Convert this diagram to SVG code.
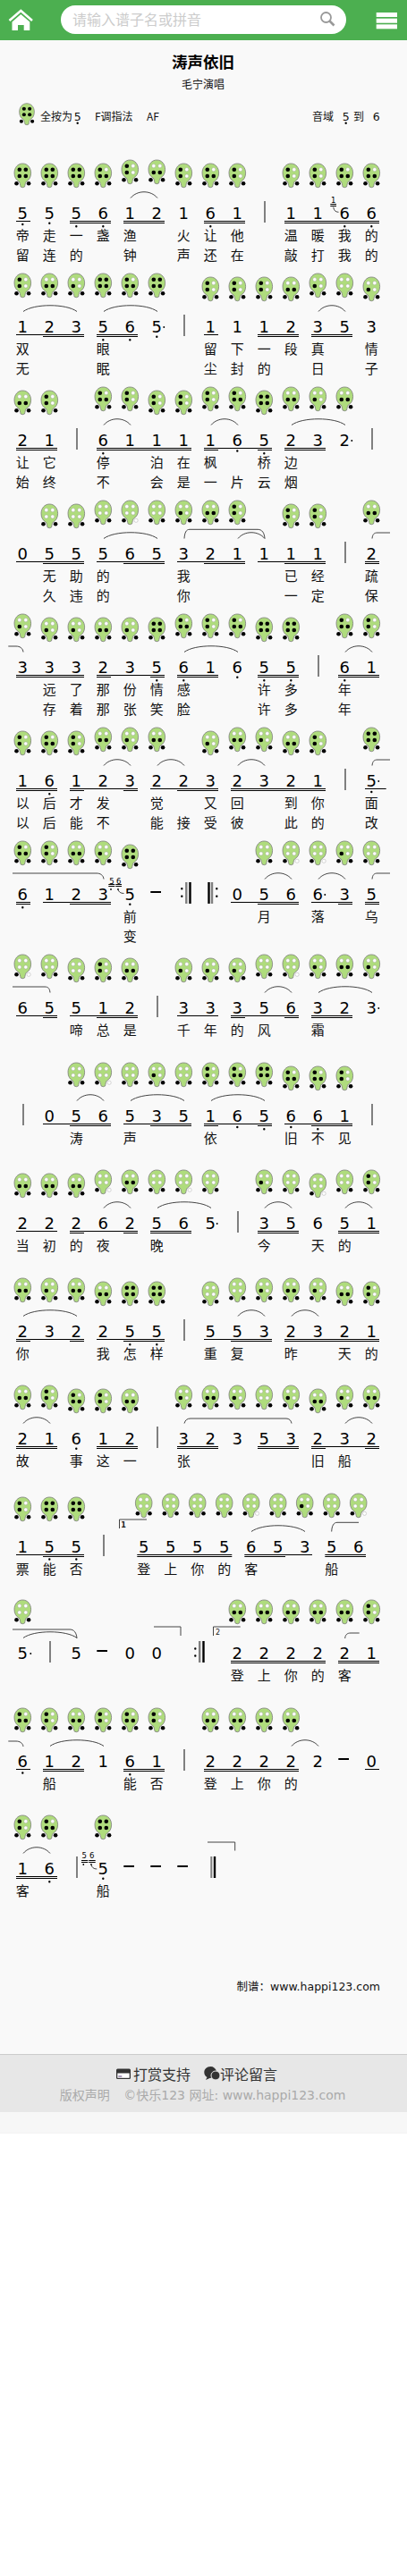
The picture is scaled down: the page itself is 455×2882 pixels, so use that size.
<svg xmlns="http://www.w3.org/2000/svg" width="455" height="2882" viewBox="0 0 455 2882">
<style>
.n{font:18px "DejaVu Sans",sans-serif;text-anchor:middle;fill:#000}
.l{font:15px "Noto Sans CJK SC",sans-serif;text-anchor:middle;fill:#111}
.g{font:8.5px "DejaVu Sans",sans-serif;text-anchor:middle;fill:#000}
.t{font:12px "Noto Sans CJK SC",sans-serif;fill:#111}
.u{fill:none;stroke:#000;stroke-width:1}
.d{fill:none;stroke:#000;stroke-width:2.4;stroke-linecap:round}
.a{fill:none;stroke:#000;stroke-width:1.9;stroke-linecap:round}
.s{fill:none;stroke:#444;stroke-width:1}
.b{fill:none;stroke:#808080;stroke-width:2}
.h{fill:none;stroke:#000;stroke-width:2}
.x{fill:none;stroke:#000;stroke-width:2.4}
.body{fill:#afdc7d;stroke:#7b7b7b;stroke-width:.8}
.k{fill:#000}
.w{fill:#fff;stroke:#999;stroke-width:.4}
</style>
<defs>
<path id="o" class="body" d="M0 0C5.5 0 9.3 4.7 9.3 10.5C9.3 15.5 7 18.5 4.2 20C3 21 2.8 24 2.2 26Q0 27.5-2.2 26C-2.8 24-3 21-4.2 20C-7 18.5-9.3 15.5-9.3 10.5C-9.3 4.7-5.5 0 0 0Z"/>
<circle id="K" r="2.3" class="k"/><circle id="W" r="2.1" class="w"/>
<g id="a"><use href="#o"/><use href="#K" x="-3.5" y="6.7"/><use href="#K" x="3.5" y="6.7"/><use href="#K" x="-3.5" y="14"/><use href="#K" x="3.5" y="14"/><use href="#K" x="-6.8" y="22.3"/><use href="#K" x="6.8" y="22.3"/></g>
<g id="b"><use href="#o"/><use href="#K" x="-3.5" y="6.7"/><use href="#W" x="3.5" y="6.7"/><use href="#K" x="-3.5" y="14"/><use href="#K" x="3.5" y="14"/><use href="#K" x="-6.8" y="22.3"/><use href="#K" x="6.8" y="22.3"/></g>
<g id="c"><use href="#o"/><use href="#K" x="-3.5" y="6.7"/><use href="#W" x="3.5" y="6.7"/><use href="#K" x="-3.5" y="14"/><use href="#W" x="3.5" y="14"/><use href="#K" x="-6.8" y="22.3"/><use href="#K" x="6.8" y="22.3"/></g>
<g id="e2"><use href="#o"/><use href="#W" x="-3.5" y="6.7"/><use href="#W" x="3.5" y="6.7"/><use href="#K" x="-3.5" y="14"/><use href="#K" x="3.5" y="14"/><use href="#K" x="-6.8" y="22.3"/><use href="#K" x="6.8" y="22.3"/></g>
<g id="e3"><use href="#o"/><use href="#W" x="-3.5" y="6.7"/><use href="#W" x="3.5" y="6.7"/><use href="#K" x="-3.5" y="14"/><use href="#W" x="3.5" y="14"/><use href="#K" x="-6.8" y="22.3"/><use href="#K" x="6.8" y="22.3"/></g>
<g id="f"><use href="#o"/><use href="#W" x="-3.5" y="6.7"/><use href="#W" x="3.5" y="6.7"/><use href="#W" x="-3.5" y="14"/><use href="#W" x="3.5" y="14"/><use href="#K" x="-6.8" y="22.3"/><use href="#K" x="6.8" y="22.3"/></g>
<g id="g"><use href="#o"/><use href="#W" x="-3.5" y="6.7"/><use href="#W" x="3.5" y="6.7"/><use href="#W" x="-3.5" y="14"/><use href="#W" x="3.5" y="14"/><use href="#K" x="-6.8" y="22.3"/><use href="#W" x="6.8" y="22.3"/></g>
</defs>

<rect width="455" height="2882" fill="#fff"/>
<rect y="45" width="455" height="2253" fill="#f9f9f9"/>

<g id="header">
<rect width="455" height="45" fill="#4caf50"/>
<path d="M10.5 23L23.3 12L36 23" fill="none" stroke="#fff" stroke-width="2.6"/>
<path d="M13.5 24.5L23.3 16L33.3 24.5V34H26.7V28H20V34H13.5Z" fill="#fff"/>
<rect x="68" y="6" width="319" height="32" rx="16" fill="#fff"/>
<text x="81" y="28" font-family="'Noto Sans CJK SC',sans-serif" font-size="16" fill="#ccc">请输入谱子名或拼音</text>
<circle cx="364.5" cy="19.5" r="5.5" fill="none" stroke="#999" stroke-width="1.8"/>
<path d="M368.5 23.5L373.5 28.5" stroke="#999" stroke-width="2.6"/>
<rect x="420.7" y="14" width="23.3" height="5" fill="#fff"/><rect x="420.7" y="20.7" width="23.3" height="5" fill="#fff"/><rect x="420.7" y="27.3" width="23.3" height="5" fill="#fff"/>
</g>

<g id="title">
<text x="227" y="76" text-anchor="middle" font-family="'Noto Sans CJK SC',sans-serif" font-size="17.5" font-weight="700" fill="#000">涛声依旧</text>
<text x="227" y="99" text-anchor="middle" class="t">毛宁演唱</text>
<use href="#a" transform="translate(30 115.7) scale(.9)"/>
<text x="45" y="135" class="t">全按为</text>
<text x="86.7" y="135" text-anchor="middle" font-family="'DejaVu Sans',sans-serif" font-size="12.5" fill="#111">5</text>
<text x="106" y="135" class="t">F调指法</text>
<text x="164" y="135" class="t">AF</text>
<text x="349" y="135" class="t">音域</text>
<text x="386.7" y="135" text-anchor="middle" font-family="'DejaVu Sans',sans-serif" font-size="12.5" fill="#111">5</text>
<text x="395" y="135" class="t">到</text>
<text x="420.7" y="135" text-anchor="middle" font-family="'DejaVu Sans',sans-serif" font-size="12.5" fill="#111">6</text>
<path class="d" d="M86.7 137.7h0M386.7 137.7h0"/>
</g>

<g id="row1" transform="translate(0 245)">
<use href="#a" x="25.3" y="-62"/><use href="#a" x="55.3" y="-62"/><use href="#a" x="85.3" y="-62"/><use href="#b" x="115.3" y="-62"/><use href="#c" x="145.3" y="-66"/><use href="#e2" x="175.3" y="-66"/><use href="#c" x="205.3" y="-62"/><use href="#b" x="235.3" y="-62"/><use href="#c" x="265.3" y="-62"/><use href="#c" x="325.3" y="-62"/><use href="#c" x="355.3" y="-62"/><use href="#b" x="385.3" y="-62"/><use href="#b" x="415.3" y="-62"/>
<text class="n" x="25.3">5</text><text class="n" x="55.3">5</text><text class="n" x="85.3">5</text><text class="n" x="115.3">6</text><text class="n" x="145.3">1</text><text class="n" x="175.3">2</text><text class="n" x="205.3">1</text><text class="n" x="235.3">6</text><text class="n" x="265.3">1</text><text class="n" x="325.3">1</text><text class="n" x="355.3">1</text><text class="n" x="385.3">6</text><text class="n" x="415.3">6</text>
<text class="g" x="372.7" y="-18">1</text>
<path class="u" d="M18 2.5H34M78 2.5H124M138 2.5H184M228 2.5H274M318 2.5H424M78 4.5H124M138 4.5H184M228 4.5H274M318 4.5H424M369.3-16.5H376M369.3-14.5H376"/>
<path class="d" d="M25.3 6h0M55.3 4.7h0M85.3 8.3h0M115.3 8.3h0M235.3 8.3h0M385.3 8.3h0M415.3 8.3h0"/>
<path class="b" d="M296-20V4"/>
<path class="s" d="M146-23.5c7.5-9 22.5-9 30 0M372.7-13.3Q373.5-7.7 378.5-7.7"/>
<text class="l" x="25.3" y="23.5">帝</text><text class="l" x="55.3" y="23.5">走</text><text class="l" x="85.3" y="23.5">一</text><text class="l" x="115.3" y="23.5">盏</text><text class="l" x="145.3" y="23.5">渔</text><text class="l" x="205.3" y="23.5">火</text><text class="l" x="235.3" y="23.5">让</text><text class="l" x="265.3" y="23.5">他</text><text class="l" x="325.3" y="23.5">温</text><text class="l" x="355.3" y="23.5">暖</text><text class="l" x="385.3" y="23.5">我</text><text class="l" x="415.3" y="23.5">的</text>
<text class="l" x="25.3" y="46">留</text><text class="l" x="55.3" y="46">连</text><text class="l" x="85.3" y="46">的</text><text class="l" x="145.3" y="46">钟</text><text class="l" x="205.3" y="46">声</text><text class="l" x="235.3" y="46">还</text><text class="l" x="265.3" y="46">在</text><text class="l" x="325.3" y="46">敲</text><text class="l" x="355.3" y="46">打</text><text class="l" x="385.3" y="46">我</text><text class="l" x="415.3" y="46">的</text>
</g>

<g id="row2" transform="translate(0 372)">
<use href="#c" x="25.3" y="-66"/><use href="#e2" x="55.3" y="-66"/><use href="#e3" x="85.3" y="-66"/><use href="#a" x="115.3" y="-66"/><use href="#b" x="145.3" y="-66"/><use href="#a" x="175.3" y="-66"/><use href="#c" x="235.3" y="-62"/><use href="#c" x="265.3" y="-62"/><use href="#c" x="295.3" y="-62"/><use href="#e2" x="325.3" y="-62"/><use href="#e3" x="355.3" y="-66"/><use href="#f" x="385.3" y="-66"/><use href="#e3" x="415.3" y="-62"/>
<text class="n" x="25.3">1</text><text class="n" x="55.3">2</text><text class="n" x="85.3">3</text><text class="n" x="115.3">5</text><text class="n" x="145.3">6</text><text class="n" x="175.3">5</text><text class="n" x="235.3">1</text><text class="n" x="265.3">1</text><text class="n" x="295.3">1</text><text class="n" x="325.3">2</text><text class="n" x="355.3">3</text><text class="n" x="385.3">5</text><text class="n" x="415.3">3</text>
<path class="u" d="M18 2.5H94M108 2.5H154M228 2.5H244M288 2.5H334M348 2.5H394M48 4.5H94M108 4.5H154M288 4.5H334M348 4.5H394"/>
<path class="d" d="M115.3 8.3h0M145.3 8.3h0M175.3 4.7h0"/>
<path class="a" d="M183.3-6h0"/>
<path class="b" d="M206-20V4"/>
<path class="s" d="M26-23.5c12-9 48-9 60 0M116-23.5c12-9 48-9 60 0M356-23.5c7.5-9 22.5-9 30 0"/>
<text class="l" x="25.3" y="23.5">双</text><text class="l" x="115.3" y="23.5">眼</text><text class="l" x="235.3" y="23.5">留</text><text class="l" x="265.3" y="23.5">下</text><text class="l" x="295.3" y="23.5">一</text><text class="l" x="325.3" y="23.5">段</text><text class="l" x="355.3" y="23.5">真</text><text class="l" x="415.3" y="23.5">情</text>
<text class="l" x="25.3" y="46">无</text><text class="l" x="115.3" y="46">眠</text><text class="l" x="235.3" y="46">尘</text><text class="l" x="265.3" y="46">封</text><text class="l" x="295.3" y="46">的</text><text class="l" x="355.3" y="46">日</text><text class="l" x="415.3" y="46">子</text>
</g>

<g id="row3" transform="translate(0 499)">
<use href="#e2" x="25.3" y="-62"/><use href="#c" x="55.3" y="-62"/><use href="#b" x="115.3" y="-66"/><use href="#c" x="145.3" y="-66"/><use href="#c" x="175.3" y="-62"/><use href="#c" x="205.3" y="-62"/><use href="#c" x="235.3" y="-66"/><use href="#b" x="265.3" y="-66"/><use href="#a" x="295.3" y="-62"/><use href="#e2" x="325.3" y="-66"/><use href="#e3" x="355.3" y="-66"/><use href="#e2" x="385.3" y="-66"/>
<text class="n" x="25.3">2</text><text class="n" x="55.3">1</text><text class="n" x="115.3">6</text><text class="n" x="145.3">1</text><text class="n" x="175.3">1</text><text class="n" x="205.3">1</text><text class="n" x="235.3">1</text><text class="n" x="265.3">6</text><text class="n" x="295.3">5</text><text class="n" x="325.3">2</text><text class="n" x="355.3">3</text><text class="n" x="385.3">2</text>
<path class="u" d="M18 2.5H64M108 2.5H214M228 2.5H304M318 2.5H364M18 4.5H64M108 4.5H214M228 4.5H244M288 4.5H304M318 4.5H364"/>
<path class="d" d="M115.3 8.3h0M265.3 5.5h0M295.3 8.3h0"/>
<path class="a" d="M393.3-6h0"/>
<path class="b" d="M86-20V4M416-20V4"/>
<path class="s" d="M116-23.5c7.5-9 22.5-9 30 0M236-23.5c7.5-9 22.5-9 30 0M326-23.5c12-9 48-9 60 0"/>
<text class="l" x="25.3" y="23.5">让</text><text class="l" x="55.3" y="23.5">它</text><text class="l" x="115.3" y="23.5">停</text><text class="l" x="175.3" y="23.5">泊</text><text class="l" x="205.3" y="23.5">在</text><text class="l" x="235.3" y="23.5">枫</text><text class="l" x="295.3" y="23.5">桥</text><text class="l" x="325.3" y="23.5">边</text>
<text class="l" x="25.3" y="46">始</text><text class="l" x="55.3" y="46">终</text><text class="l" x="115.3" y="46">不</text><text class="l" x="175.3" y="46">会</text><text class="l" x="205.3" y="46">是</text><text class="l" x="235.3" y="46">一</text><text class="l" x="265.3" y="46">片</text><text class="l" x="295.3" y="46">云</text><text class="l" x="325.3" y="46">烟</text>
</g>

<g id="row4" transform="translate(0 626)">
<use href="#f" x="55.3" y="-62"/><use href="#f" x="85.3" y="-62"/><use href="#f" x="115.3" y="-66"/><use href="#g" x="145.3" y="-66"/><use href="#f" x="175.3" y="-66"/><use href="#e3" x="205.3" y="-66"/><use href="#e2" x="235.3" y="-66"/><use href="#c" x="265.3" y="-66"/><use href="#c" x="325.3" y="-62"/><use href="#c" x="355.3" y="-62"/><use href="#e2" x="415.3" y="-66"/>
<text class="n" x="25.3">0</text><text class="n" x="55.3">5</text><text class="n" x="85.3">5</text><text class="n" x="115.3">5</text><text class="n" x="145.3">6</text><text class="n" x="175.3">5</text><text class="n" x="205.3">3</text><text class="n" x="235.3">2</text><text class="n" x="265.3">1</text><text class="n" x="295.3">1</text><text class="n" x="325.3">1</text><text class="n" x="355.3">1</text><text class="n" x="415.3">2</text>
<path class="u" d="M18 2.5H94M108 2.5H184M198 2.5H274M288 2.5H364M408 2.5H424M48 4.5H94M138 4.5H184M228 4.5H274M318 4.5H364M408 4.5H424"/>
<path class="b" d="M386-20V4"/>
<path class="s" d="M116-23.5c12-9 48-9 60 0M266-23.5c7.5-9 22.5-9 30 0M206-23.5C206.5-30 208-33.7 212-33.7H288C293-33.7 295.5-30 296-23.5M416-23.5C416.5-28 418-30 422-30H436"/>
<text class="l" x="55.3" y="23.5">无</text><text class="l" x="85.3" y="23.5">助</text><text class="l" x="115.3" y="23.5">的</text><text class="l" x="205.3" y="23.5">我</text><text class="l" x="325.3" y="23.5">已</text><text class="l" x="355.3" y="23.5">经</text><text class="l" x="415.3" y="23.5">疏</text>
<text class="l" x="55.3" y="46">久</text><text class="l" x="85.3" y="46">违</text><text class="l" x="115.3" y="46">的</text><text class="l" x="205.3" y="46">你</text><text class="l" x="325.3" y="46">一</text><text class="l" x="355.3" y="46">定</text><text class="l" x="415.3" y="46">保</text>
</g>

<g id="row5" transform="translate(0 753)">
<use href="#e3" x="25.3" y="-66"/><use href="#e3" x="55.3" y="-62"/><use href="#e3" x="85.3" y="-62"/><use href="#e2" x="115.3" y="-62"/><use href="#e3" x="145.3" y="-62"/><use href="#a" x="175.3" y="-62"/><use href="#b" x="205.3" y="-66"/><use href="#c" x="235.3" y="-66"/><use href="#b" x="265.3" y="-66"/><use href="#a" x="295.3" y="-62"/><use href="#a" x="325.3" y="-62"/><use href="#b" x="385.3" y="-66"/><use href="#c" x="415.3" y="-66"/>
<text class="n" x="25.3">3</text><text class="n" x="55.3">3</text><text class="n" x="85.3">3</text><text class="n" x="115.3">2</text><text class="n" x="145.3">3</text><text class="n" x="175.3">5</text><text class="n" x="205.3">6</text><text class="n" x="235.3">1</text><text class="n" x="265.3">6</text><text class="n" x="295.3">5</text><text class="n" x="325.3">5</text><text class="n" x="385.3">6</text><text class="n" x="415.3">1</text>
<path class="u" d="M18 2.5H94M108 2.5H184M198 2.5H244M288 2.5H334M378 2.5H424M18 4.5H94M108 4.5H124M168 4.5H184M198 4.5H244M288 4.5H334M378 4.5H424"/>
<path class="d" d="M175.3 8.3h0M205.3 8.3h0M265.3 4.7h0M295.3 8.3h0M325.3 8.3h0M385.3 8.3h0"/>
<path class="b" d="M356-20V4"/>
<path class="s" d="M9.3-30H18C22-30 25.5-28 26-23.5M206-23.5c12-9 48-9 60 0M386-23.5c7.5-9 22.5-9 30 0"/>
<text class="l" x="55.3" y="23.5">远</text><text class="l" x="85.3" y="23.5">了</text><text class="l" x="115.3" y="23.5">那</text><text class="l" x="145.3" y="23.5">份</text><text class="l" x="175.3" y="23.5">情</text><text class="l" x="205.3" y="23.5">感</text><text class="l" x="295.3" y="23.5">许</text><text class="l" x="325.3" y="23.5">多</text><text class="l" x="385.3" y="23.5">年</text>
<text class="l" x="55.3" y="46">存</text><text class="l" x="85.3" y="46">着</text><text class="l" x="115.3" y="46">那</text><text class="l" x="145.3" y="46">张</text><text class="l" x="175.3" y="46">笑</text><text class="l" x="205.3" y="46">脸</text><text class="l" x="295.3" y="46">许</text><text class="l" x="325.3" y="46">多</text><text class="l" x="385.3" y="46">年</text>
</g>

<g id="row6" transform="translate(0 880)">
<use href="#c" x="25.3" y="-62"/><use href="#b" x="55.3" y="-62"/><use href="#c" x="85.3" y="-62"/><use href="#e2" x="115.3" y="-66"/><use href="#e3" x="145.3" y="-66"/><use href="#e2" x="175.3" y="-66"/><use href="#e3" x="235.3" y="-62"/><use href="#e2" x="265.3" y="-66"/><use href="#e3" x="295.3" y="-66"/><use href="#e2" x="325.3" y="-62"/><use href="#c" x="355.3" y="-62"/><use href="#a" x="415.3" y="-66"/>
<text class="n" x="25.3">1</text><text class="n" x="55.3">6</text><text class="n" x="85.3">1</text><text class="n" x="115.3">2</text><text class="n" x="145.3">3</text><text class="n" x="175.3">2</text><text class="n" x="205.3">2</text><text class="n" x="235.3">3</text><text class="n" x="265.3">2</text><text class="n" x="295.3">3</text><text class="n" x="325.3">2</text><text class="n" x="355.3">1</text><text class="n" x="415.3">5</text>
<path class="u" d="M18 2.5H64M78 2.5H154M168 2.5H244M258 2.5H364M408 2.5H431.7M18 4.5H64M78 4.5H94M138 4.5H154M198 4.5H244M258 4.5H364"/>
<path class="d" d="M55.3 8.3h0M415.3 6h0"/>
<path class="a" d="M423.3-6h0"/>
<path class="b" d="M386-20V4"/>
<path class="s" d="M116-23.5c7.5-9 22.5-9 30 0M176-23.5c7.5-9 22.5-9 30 0M266-23.5c7.5-9 22.5-9 30 0M416-23.5C416.5-28 418-30 422-30H436"/>
<text class="l" x="25.3" y="23.5">以</text><text class="l" x="55.3" y="23.5">后</text><text class="l" x="85.3" y="23.5">才</text><text class="l" x="115.3" y="23.5">发</text><text class="l" x="175.3" y="23.5">觉</text><text class="l" x="235.3" y="23.5">又</text><text class="l" x="265.3" y="23.5">回</text><text class="l" x="325.3" y="23.5">到</text><text class="l" x="355.3" y="23.5">你</text><text class="l" x="415.3" y="23.5">面</text>
<text class="l" x="25.3" y="46">以</text><text class="l" x="55.3" y="46">后</text><text class="l" x="85.3" y="46">能</text><text class="l" x="115.3" y="46">不</text><text class="l" x="175.3" y="46">能</text><text class="l" x="205.3" y="46">接</text><text class="l" x="235.3" y="46">受</text><text class="l" x="265.3" y="46">彼</text><text class="l" x="325.3" y="46">此</text><text class="l" x="355.3" y="46">的</text><text class="l" x="415.3" y="46">改</text>
</g>

<g id="row7" transform="translate(0 1007)">
<use href="#b" x="25.3" y="-66"/><use href="#c" x="55.3" y="-66"/><use href="#e2" x="85.3" y="-66"/><use href="#e3" x="115.3" y="-66"/><use href="#a" x="145.3" y="-62"/><use href="#f" x="295.3" y="-66"/><use href="#g" x="325.3" y="-66"/><use href="#g" x="355.3" y="-66"/><use href="#e3" x="385.3" y="-66"/><use href="#f" x="415.3" y="-66"/>
<text class="n" x="25.3">6</text><text class="n" x="55.3">1</text><text class="n" x="85.3">2</text><text class="n" x="115.3">3</text><text class="n" x="145.3">5</text><text class="n" x="265.3">0</text><text class="n" x="295.3">5</text><text class="n" x="325.3">6</text><text class="n" x="355.3">6</text><text class="n" x="385.3">3</text><text class="n" x="415.3">5</text>
<text class="g" x="125" y="-18.5">5</text><text class="g" x="132.7" y="-18.5">6</text>
<path class="u" d="M18 2.5H34M48 2.5H124M258 2.5H334M348 2.5H394M408 2.5H424M18 4.5H34M78 4.5H124M288 4.5H334M378 4.5H394M408 4.5H424M121.3-17.5H128.3M129.3-17.5H136M121.3-15.5H128.3M129.3-15.5H136"/>
<path class="d" d="M25.3 8.3h0M145.3 4.7h0"/>
<path class="a" d="M363.3-6h0"/>
<path class="h" d="M168.3-9H180"/>
<path class="d" style="stroke-width:1.8" d="M124-12h0M132-12h0"/>
<path class="d" d="M203.3-12.7h0M203.3-4.3h0M242.3-12.7h0M242.3-4.3h0"/>
<path class="b" style="stroke-width:2.4" d="M208.3-20V4M237-20V4"/>
<path class="x" d="M212.5-20V4M233.5-20V4"/>
<path class="s" d="M14-30H108C112-30 115.5-28 116-23.5M296-23.5c7.5-9 22.5-9 30 0M356-23.5c7.5-9 22.5-9 30 0M416-23.5C416.5-28 418-30 422-30H436M132-12Q133-7.5 138.5-7.5"/>
<text class="l" x="145.3" y="23.5">前</text><text class="l" x="295.3" y="23.5">月</text><text class="l" x="355.3" y="23.5">落</text><text class="l" x="415.3" y="23.5">乌</text>
<text class="l" x="145.3" y="46">变</text>
</g>

<g id="row8" transform="translate(0 1134)">
<use href="#g" x="25.3" y="-66"/><use href="#f" x="55.3" y="-66"/><use href="#f" x="85.3" y="-62"/><use href="#c" x="115.3" y="-62"/><use href="#e2" x="145.3" y="-62"/><use href="#e3" x="205.3" y="-62"/><use href="#e3" x="235.3" y="-62"/><use href="#e3" x="265.3" y="-62"/><use href="#f" x="295.3" y="-66"/><use href="#g" x="325.3" y="-66"/><use href="#e3" x="355.3" y="-66"/><use href="#e2" x="385.3" y="-66"/><use href="#e3" x="415.3" y="-66"/>
<text class="n" x="25.3">6</text><text class="n" x="55.3">5</text><text class="n" x="85.3">5</text><text class="n" x="115.3">1</text><text class="n" x="145.3">2</text><text class="n" x="205.3">3</text><text class="n" x="235.3">3</text><text class="n" x="265.3">3</text><text class="n" x="295.3">5</text><text class="n" x="325.3">6</text><text class="n" x="355.3">3</text><text class="n" x="385.3">2</text><text class="n" x="415.3">3</text>
<path class="u" d="M18 2.5H64M78 2.5H154M198 2.5H244M258 2.5H334M348 2.5H394M48 4.5H64M108 4.5H154M258 4.5H274M318 4.5H334M348 4.5H394"/>
<path class="a" d="M423.3-6h0"/>
<path class="b" d="M176-20V4"/>
<path class="s" d="M14-30H50C54-30 55.5-28 56-23.5M296-23.5c7.5-9 22.5-9 30 0M356-23.5c12-9 48-9 60 0"/>
<text class="l" x="85.3" y="23.5">啼</text><text class="l" x="115.3" y="23.5">总</text><text class="l" x="145.3" y="23.5">是</text><text class="l" x="205.3" y="23.5">千</text><text class="l" x="235.3" y="23.5">年</text><text class="l" x="265.3" y="23.5">的</text><text class="l" x="295.3" y="23.5">风</text><text class="l" x="355.3" y="23.5">霜</text>
</g>

<g id="row9" transform="translate(0 1255)">
<use href="#f" x="85.3" y="-66"/><use href="#g" x="115.3" y="-66"/><use href="#f" x="145.3" y="-66"/><use href="#e3" x="175.3" y="-66"/><use href="#f" x="205.3" y="-66"/><use href="#c" x="235.3" y="-66"/><use href="#b" x="265.3" y="-66"/><use href="#a" x="295.3" y="-66"/><use href="#b" x="325.3" y="-62"/><use href="#b" x="355.3" y="-62"/><use href="#c" x="385.3" y="-62"/>
<text class="n" x="55.3">0</text><text class="n" x="85.3">5</text><text class="n" x="115.3">6</text><text class="n" x="145.3">5</text><text class="n" x="175.3">3</text><text class="n" x="205.3">5</text><text class="n" x="235.3">1</text><text class="n" x="265.3">6</text><text class="n" x="295.3">5</text><text class="n" x="325.3">6</text><text class="n" x="355.3">6</text><text class="n" x="385.3">1</text>
<path class="u" d="M48 2.5H124M138 2.5H214M228 2.5H304M318 2.5H394M78 4.5H124M168 4.5H214M228 4.5H244M288 4.5H304M348 4.5H394"/>
<path class="d" d="M265.3 6h0M295.3 8.3h0M325.3 6h0M355.3 8.3h0"/>
<path class="b" d="M26-20V4M416-20V4"/>
<path class="s" d="M86-23.5c7.5-9 22.5-9 30 0M146-23.5c12-9 48-9 60 0M236-23.5c12-9 48-9 60 0"/>
<text class="l" x="85.3" y="23.5">涛</text><text class="l" x="145.3" y="23.5">声</text><text class="l" x="235.3" y="23.5">依</text><text class="l" x="325.3" y="23.5">旧</text><text class="l" x="355.3" y="23.5">不</text><text class="l" x="385.3" y="23.5">见</text>
</g>

<g id="row10" transform="translate(0 1375)">
<use href="#e2" x="25.3" y="-62"/><use href="#e2" x="55.3" y="-62"/><use href="#e2" x="85.3" y="-62"/><use href="#g" x="115.3" y="-66"/><use href="#e2" x="145.3" y="-66"/><use href="#f" x="175.3" y="-66"/><use href="#g" x="205.3" y="-66"/><use href="#f" x="235.3" y="-66"/><use href="#e3" x="295.3" y="-66"/><use href="#f" x="325.3" y="-66"/><use href="#g" x="355.3" y="-62"/><use href="#f" x="385.3" y="-66"/><use href="#c" x="415.3" y="-66"/>
<text class="n" x="25.3">2</text><text class="n" x="55.3">2</text><text class="n" x="85.3">2</text><text class="n" x="115.3">6</text><text class="n" x="145.3">2</text><text class="n" x="175.3">5</text><text class="n" x="205.3">6</text><text class="n" x="235.3">5</text><text class="n" x="295.3">3</text><text class="n" x="325.3">5</text><text class="n" x="355.3">6</text><text class="n" x="385.3">5</text><text class="n" x="415.3">1</text>
<path class="u" d="M18 2.5H64M78 2.5H154M168 2.5H214M288 2.5H334M378 2.5H424M78 4.5H94M138 4.5H154M168 4.5H214M288 4.5H334M378 4.5H424"/>
<path class="a" d="M242.7-6h0"/>
<path class="b" d="M266-20V4"/>
<path class="s" d="M116-23.5c7.5-9 22.5-9 30 0M176-23.5c12-9 48-9 60 0M296-23.5c7.5-9 22.5-9 30 0M386-23.5c7.5-9 22.5-9 30 0"/>
<text class="l" x="25.3" y="23.5">当</text><text class="l" x="55.3" y="23.5">初</text><text class="l" x="85.3" y="23.5">的</text><text class="l" x="115.3" y="23.5">夜</text><text class="l" x="175.3" y="23.5">晚</text><text class="l" x="295.3" y="23.5">今</text><text class="l" x="355.3" y="23.5">天</text><text class="l" x="385.3" y="23.5">的</text>
</g>

<g id="row11" transform="translate(0 1496)">
<use href="#e2" x="25.3" y="-66"/><use href="#e3" x="55.3" y="-66"/><use href="#e2" x="85.3" y="-66"/><use href="#e2" x="115.3" y="-62"/><use href="#a" x="145.3" y="-62"/><use href="#a" x="175.3" y="-62"/><use href="#f" x="235.3" y="-62"/><use href="#f" x="265.3" y="-66"/><use href="#e3" x="295.3" y="-66"/><use href="#e2" x="325.3" y="-66"/><use href="#e3" x="355.3" y="-66"/><use href="#e2" x="385.3" y="-62"/><use href="#c" x="415.3" y="-62"/>
<text class="n" x="25.3">2</text><text class="n" x="55.3">3</text><text class="n" x="85.3">2</text><text class="n" x="115.3">2</text><text class="n" x="145.3">5</text><text class="n" x="175.3">5</text><text class="n" x="235.3">5</text><text class="n" x="265.3">5</text><text class="n" x="295.3">3</text><text class="n" x="325.3">2</text><text class="n" x="355.3">3</text><text class="n" x="385.3">2</text><text class="n" x="415.3">1</text>
<path class="u" d="M18 2.5H94M108 2.5H184M228 2.5H304M318 2.5H424M18 4.5H34M78 4.5H94M138 4.5H184M258 4.5H304M318 4.5H424"/>
<path class="d" d="M145.3 8.3h0M175.3 8.3h0"/>
<path class="b" d="M206-20V4"/>
<path class="s" d="M26-23.5c12-9 48-9 60 0M266-23.5c7.5-9 22.5-9 30 0M326-23.5c7.5-9 22.5-9 30 0"/>
<text class="l" x="25.3" y="23.5">你</text><text class="l" x="115.3" y="23.5">我</text><text class="l" x="145.3" y="23.5">怎</text><text class="l" x="175.3" y="23.5">样</text><text class="l" x="235.3" y="23.5">重</text><text class="l" x="265.3" y="23.5">复</text><text class="l" x="325.3" y="23.5">昨</text><text class="l" x="385.3" y="23.5">天</text><text class="l" x="415.3" y="23.5">的</text>
</g>

<g id="row12" transform="translate(0 1616)">
<use href="#e2" x="25.3" y="-66"/><use href="#c" x="55.3" y="-66"/><use href="#b" x="85.3" y="-62"/><use href="#c" x="115.3" y="-62"/><use href="#e2" x="145.3" y="-62"/><use href="#e3" x="205.3" y="-66"/><use href="#e2" x="235.3" y="-66"/><use href="#e3" x="265.3" y="-66"/><use href="#f" x="295.3" y="-66"/><use href="#e3" x="325.3" y="-66"/><use href="#e2" x="355.3" y="-62"/><use href="#e3" x="385.3" y="-66"/><use href="#e2" x="415.3" y="-66"/>
<text class="n" x="25.3">2</text><text class="n" x="55.3">1</text><text class="n" x="85.3">6</text><text class="n" x="115.3">1</text><text class="n" x="145.3">2</text><text class="n" x="205.3">3</text><text class="n" x="235.3">2</text><text class="n" x="265.3">3</text><text class="n" x="295.3">5</text><text class="n" x="325.3">3</text><text class="n" x="355.3">2</text><text class="n" x="385.3">3</text><text class="n" x="415.3">2</text>
<path class="u" d="M18 2.5H64M108 2.5H154M198 2.5H244M288 2.5H334M348 2.5H424M18 4.5H64M108 4.5H154M198 4.5H244M288 4.5H334M348 4.5H364M408 4.5H424"/>
<path class="d" d="M85.3 4.7h0"/>
<path class="b" d="M176-20V4"/>
<path class="s" d="M26-23.5c7.5-9 22.5-9 30 0M206-23.5C207-27 209-29 213-29H320C323-29 325.5-27 326-23.5M386-23.5c7.5-9 22.5-9 30 0"/>
<text class="l" x="25.3" y="23.5">故</text><text class="l" x="85.3" y="23.5">事</text><text class="l" x="115.3" y="23.5">这</text><text class="l" x="145.3" y="23.5">一</text><text class="l" x="205.3" y="23.5">张</text><text class="l" x="355.3" y="23.5">旧</text><text class="l" x="385.3" y="23.5">船</text>
</g>

<g id="row13" transform="translate(0 1737)">
<use href="#c" x="25.3" y="-62"/><use href="#a" x="55.3" y="-62"/><use href="#a" x="85.3" y="-62"/><use href="#f" x="160.7" y="-66"/><use href="#f" x="190.7" y="-66"/><use href="#f" x="220.7" y="-66"/><use href="#f" x="250.7" y="-66"/><use href="#g" x="280.7" y="-66"/><use href="#f" x="310.7" y="-66"/><use href="#e3" x="340.7" y="-66"/><use href="#f" x="370.7" y="-66"/><use href="#g" x="400.7" y="-66"/>
<text class="n" x="25.3">1</text><text class="n" x="55.3">5</text><text class="n" x="85.3">5</text><text class="n" x="160.7">5</text><text class="n" x="190.7">5</text><text class="n" x="220.7">5</text><text class="n" x="250.7">5</text><text class="n" x="280.7">6</text><text class="n" x="310.7">5</text><text class="n" x="340.7">3</text><text class="n" x="370.7">5</text><text class="n" x="400.7">6</text>
<path class="u" d="M18 2.5H94M153.3 2.5H259.3M273.3 2.5H349M363.3 2.5H409M48 4.5H94M153.3 4.5H259.3M273.3 4.5H319M363.3 4.5H409"/>
<path class="d" d="M55.3 7.5h0M85.3 7.5h0"/>
<path class="b" d="M116-20V4"/>
<path class="s" d="M133.5-27V-37H164M281-23.5c12-9 48-9 60 0M370.7-23.5C371-30 373-33.7 377-33.7H401"/>
<text x="138" y="-27.7" text-anchor="middle" font-family="'DejaVu Sans',sans-serif" font-size="8" font-weight="700" fill="#222">1</text>
<text class="l" x="25.3" y="23.5">票</text><text class="l" x="55.3" y="23.5">能</text><text class="l" x="85.3" y="23.5">否</text><text class="l" x="160.7" y="23.5">登</text><text class="l" x="190.7" y="23.5">上</text><text class="l" x="220.7" y="23.5">你</text><text class="l" x="250.7" y="23.5">的</text><text class="l" x="280.7" y="23.5">客</text><text class="l" x="370.7" y="23.5">船</text>
</g>

<g id="row14" transform="translate(0 1856)">
<use href="#f" x="25.3" y="-66"/><use href="#e2" x="265.3" y="-66"/><use href="#e2" x="295.3" y="-66"/><use href="#e2" x="325.3" y="-66"/><use href="#e2" x="355.3" y="-66"/><use href="#e2" x="385.3" y="-66"/><use href="#c" x="415.3" y="-66"/>
<text class="n" x="25.3">5</text><text class="n" x="85.3">5</text><text class="n" x="145.3">0</text><text class="n" x="175.3">0</text><text class="n" x="265.3">2</text><text class="n" x="295.3">2</text><text class="n" x="325.3">2</text><text class="n" x="355.3">2</text><text class="n" x="385.3">2</text><text class="n" x="415.3">1</text>
<path class="u" d="M258 2.5H364M378 2.5H424M258 4.5H364M378 4.5H424"/>
<path class="a" d="M34.3-6h0"/>
<path class="h" d="M108.3-9H120"/>
<path class="d" d="M218.3-11.5h0M218.3-3.5h0"/>
<path class="b" d="M56-20V4"/>
<path class="b" style="stroke-width:2.4" d="M223.2-20V4"/>
<path class="x" d="M227.5-20V4"/>
<path class="s" d="M14-33H78C83-33 85.5-29 86-23M26-23.5c12-9 48-9 60 0M172-36H202V-26M238.5-26V-36H268.7M385.7-23C386-27 388-29 392-29H401.7"/>
<text x="243.5" y="-27" text-anchor="middle" font-family="'DejaVu Sans',sans-serif" font-size="8" fill="#222">2</text>
<text class="l" x="265.3" y="23.5">登</text><text class="l" x="295.3" y="23.5">上</text><text class="l" x="325.3" y="23.5">你</text><text class="l" x="355.3" y="23.5">的</text><text class="l" x="385.3" y="23.5">客</text>
</g>

<g id="row15" transform="translate(0 1977)">
<use href="#b" x="25.3" y="-66"/><use href="#c" x="55.3" y="-66"/><use href="#e2" x="85.3" y="-66"/><use href="#c" x="115.3" y="-66"/><use href="#b" x="145.3" y="-66"/><use href="#c" x="175.3" y="-66"/><use href="#e2" x="235.3" y="-66"/><use href="#e2" x="265.3" y="-66"/><use href="#e2" x="295.3" y="-66"/><use href="#e2" x="325.3" y="-66"/>
<text class="n" x="25.3">6</text><text class="n" x="55.3">1</text><text class="n" x="85.3">2</text><text class="n" x="115.3">1</text><text class="n" x="145.3">6</text><text class="n" x="175.3">1</text><text class="n" x="235.3">2</text><text class="n" x="265.3">2</text><text class="n" x="295.3">2</text><text class="n" x="325.3">2</text><text class="n" x="355.3">2</text><text class="n" x="415.3">0</text>
<path class="u" d="M18 2.5H34M48 2.5H94M138 2.5H184M228 2.5H334M408 2.5H424M48 4.5H94M138 4.5H184M228 4.5H334"/>
<path class="d" d="M25.3 6.5h0M145.3 8.3h0"/>
<path class="h" d="M378.3-9H390"/>
<path class="b" d="M206-20V4"/>
<path class="s" d="M9.3-29H18C22-29 25.5-27 26-23M56-23.5c12-9 48-9 60 0M326-23.5c7.5-9 22.5-9 30 0"/>
<text class="l" x="55.3" y="23.5">船</text><text class="l" x="145.3" y="23.5">能</text><text class="l" x="175.3" y="23.5">否</text><text class="l" x="235.3" y="23.5">登</text><text class="l" x="265.3" y="23.5">上</text><text class="l" x="295.3" y="23.5">你</text><text class="l" x="325.3" y="23.5">的</text>
</g>

<g id="row16" transform="translate(0 2097)">
<use href="#c" x="25.3" y="-66"/><use href="#b" x="55.3" y="-66"/><use href="#a" x="115.3" y="-66"/>
<text class="n" x="25.3">1</text><text class="n" x="55.3">6</text><text class="n" x="115.3">5</text>
<text class="g" x="94.3" y="-17.7">5</text><text class="g" x="102.7" y="-17.7">6</text>
<path class="u" d="M18 2.5H64M18 4.5H64M91-15.5H98.3M99.3-15.5H106.7M91-13.5H98.3M99.3-13.5H106.7"/>
<path class="d" d="M55.3 8.3h0M115.3 4.7h0"/>
<path class="d" style="stroke-width:1.8" d="M93.3-11h0M102-11h0"/>
<path class="h" d="M138.3-9H150M168.3-9H180M198.3-9H210"/>
<path class="b" d="M86-20V4M236.3-20V4"/>
<path class="x" d="M240-20V4"/>
<path class="s" d="M26-23.5c7.5-9 22.5-9 30 0M102-11Q103-6 108.3-6M232-36H262.7V-26.5"/>
<text class="l" x="25.3" y="23.5">客</text><text class="l" x="115.3" y="23.5">船</text>
</g>

<text id="credit" x="425" y="2227" text-anchor="end" font-family="'DejaVu Sans','Noto Sans CJK SC',sans-serif" font-size="12.5" fill="#111">制谱：www.happi123.com</text>

<g id="footer">
<rect y="2298" width="455" height="65" fill="#e7e7e7"/>
<rect y="2298" width="455" height="1" fill="#ccc"/>
<rect y="2363" width="455" height="24" fill="#f7f7f7"/>
<rect y="2386.5" width="455" height=".5" fill="#eee"/>
<rect x="130" y="2314.5" width="16" height="11.5" rx="1.5" fill="#333"/>
<rect x="131.3" y="2319.5" width="13.4" height="5.3" fill="#fff"/>
<rect x="132.3" y="2322.5" width="4" height="1" fill="#5a3a7a"/>
<text x="149" y="2327" font-family="'Noto Sans CJK SC',sans-serif" font-size="16" fill="#333">打赏支持</text>
<path d="M235.5 2312C231 2312 228.3 2315 228.3 2318.5C228.3 2321 229.5 2323 231.5 2324L230 2327L234.5 2325L240 2324L242 2317C241 2314 238.5 2312 235.5 2312Z" fill="#333"/>
<circle cx="241" cy="2322" r="5" fill="#333" stroke="#e7e7e7" stroke-width="1"/>
<text x="246" y="2327" font-family="'Noto Sans CJK SC',sans-serif" font-size="16" fill="#333">评论留言</text>
<text x="66.7" y="2349" font-family="'Noto Sans CJK SC',sans-serif" font-size="14" fill="#aaa">版权声明</text>
<text x="138.3" y="2349" font-family="'DejaVu Sans','Noto Sans CJK SC',sans-serif" font-size="14" fill="#aaa">©快乐123 网址: www.happi123.com</text>
</g>
</svg>
